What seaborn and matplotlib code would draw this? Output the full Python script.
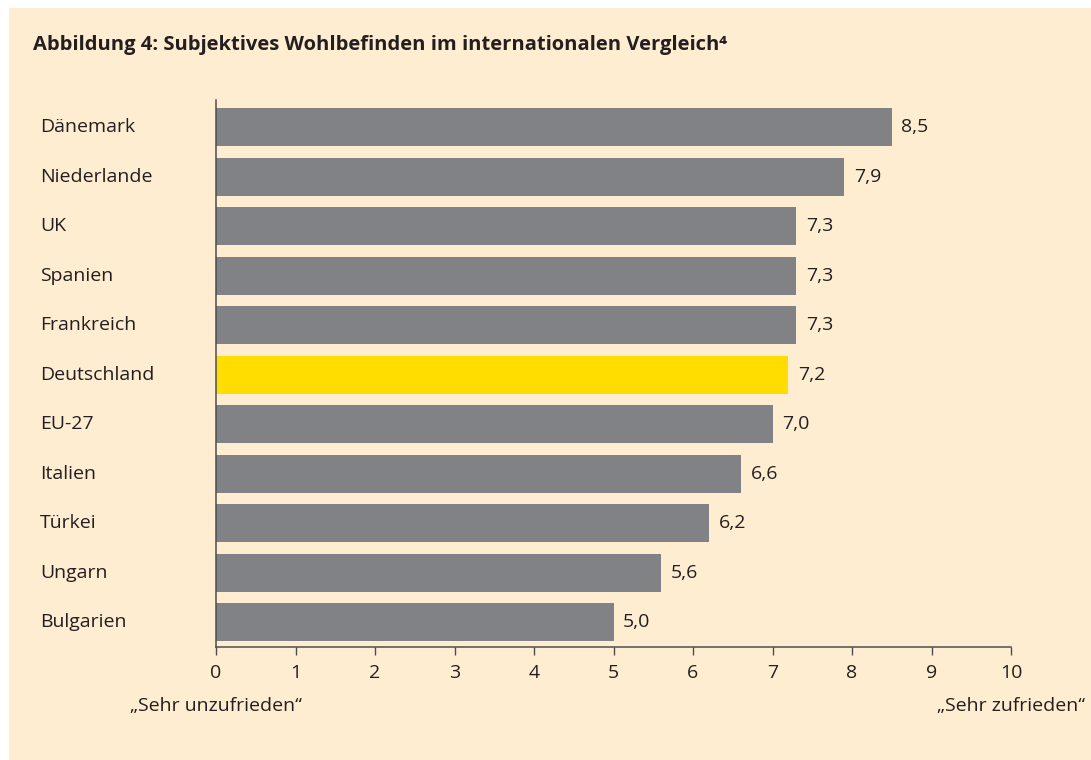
import numpy as np
import pandas as pd
import matplotlib.pyplot as plt
import matplotlib.transforms as mtransforms
import seaborn as sns
from matplotlib.patches import Rectangle

countries = ["Dänemark", "Niederlande", "UK", "Spanien", "Frankreich", "Deutschland",
             "EU-27", "Italien", "Türkei", "Ungarn", "Bulgarien"]
scores = [8.5, 7.9, 7.3, 7.3, 7.3, 7.2, 7.0, 6.6, 6.2, 5.6, 5.0]
highlight = "Deutschland"
x_ticks = list(range(0, 11))
left_note = "„Sehr unzufrieden“"
right_note = "„Sehr zufrieden“"
title = "Abbildung 4: Subjektives Wohlbefinden im internationalen Vergleich⁴"

bg = "#FEEDD1"
grey = "#808285"
yellow = "#FFDD00"
ink = "#231F20"
fs = 14

sns.set_style("white")
plt.rcParams['font.family'] = ['Open Sans', 'DejaVu Sans']
plt.rcParams['text.color'] = ink
plt.rcParams['xtick.color'] = ink

df = pd.DataFrame({"country": countries, "score": scores})
colors = [yellow if c == highlight else grey for c in countries]

fig = plt.figure(figsize=(10.91, 7.6), dpi=100, facecolor="white")
# beige panel with small white margin top/left
fig.patches.append(Rectangle((9 / 1091, 0), 1, 1 - 8 / 760, transform=fig.transFigure,
                             facecolor=bg, edgecolor="none", zorder=-5))

ax = fig.add_axes([216 / 1091, 1 - 647 / 760, 795 / 1091, 547 / 760])
ax.set_facecolor("none")

sns.barplot(data=df, x="score", y="country", hue="country", palette=colors,
            legend=False, width=0.77, saturation=1, linewidth=0, edgecolor="none", ax=ax)

ax.set_xlim(0, 10)
ax.set_ylim(10.5, -0.55)
ax.set_xticks(x_ticks)
ax.set_xticklabels([str(t) for t in x_ticks], fontsize=fs)
ax.tick_params(axis="x", direction="out", length=6, width=1, color="#4D4D4F", pad=6, bottom=True)
ax.set_yticks([])
ax.set_xlabel("")
ax.set_ylabel("")

for s in ["top", "right"]:
    ax.spines[s].set_visible(False)
for s in ["left", "bottom"]:
    ax.spines[s].set_color("#4D4D4F")
    ax.spines[s].set_linewidth(1.1)

# value labels with German decimal comma
for cont in ax.containers:
    ax.bar_label(cont, labels=[f"{v:.1f}".replace(".", ",") for v in cont.datavalues],
                 padding=7, fontsize=fs, color=ink)

# category labels, left aligned
trans = mtransforms.blended_transform_factory(fig.transFigure, ax.transData)
for i, c in enumerate(countries):
    ax.text(40 / 1091, i, c, transform=trans, ha="left", va="center", fontsize=fs)

# scale end notes centred under 0 and 10
trans_x = mtransforms.blended_transform_factory(ax.transData, fig.transFigure)
ax.text(x_ticks[0], 1 - 706 / 760, left_note, transform=trans_x, ha="center", va="center", fontsize=fs)
ax.text(x_ticks[-1], 1 - 706 / 760, right_note, transform=trans_x, ha="center", va="center", fontsize=fs)

fig.text(33 / 1091, 1 - 45 / 760, title, ha="left", va="center", fontsize=14.5, fontweight="bold")

fig.savefig("out.png", dpi=100, facecolor=fig.get_facecolor())
